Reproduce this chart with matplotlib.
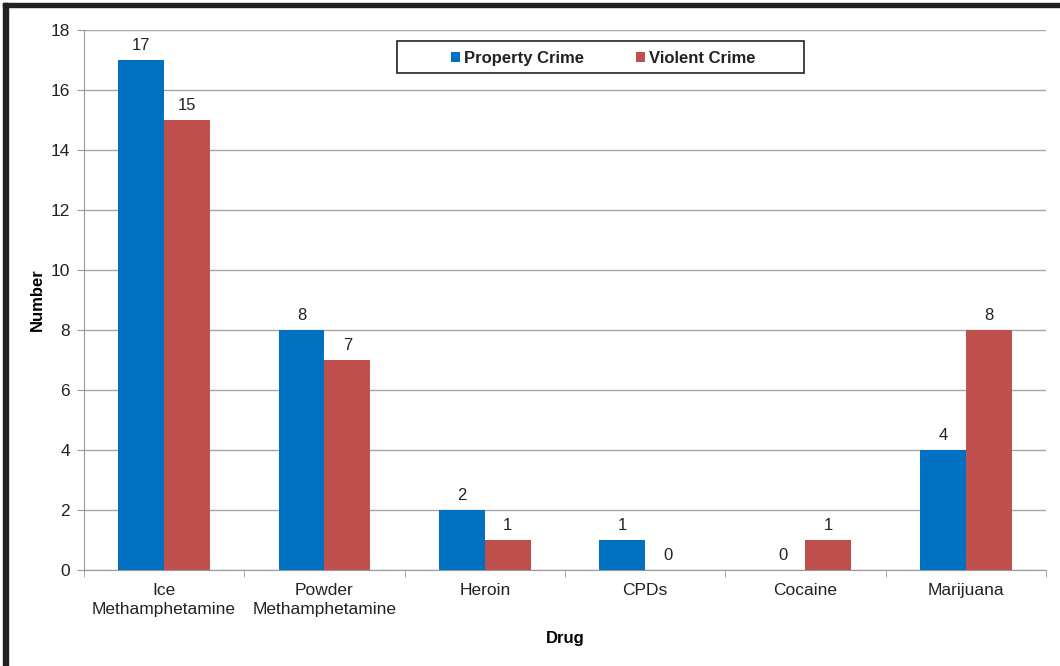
import matplotlib.pyplot as plt
import numpy as np
from matplotlib.patches import Rectangle

plt.rcParams['font.family'] = ['Liberation Sans', 'DejaVu Sans']

drugs = ["Ice\nMethamphetamine", "Powder\nMethamphetamine", "Heroin", "CPDs", "Cocaine", "Marijuana"]
property_crime = [17, 8, 2, 1, 0, 4]
violent_crime = [15, 7, 1, 0, 1, 8]

blue = "#0070C0"
red = "#C0504D"

fig = plt.figure(figsize=(10.6, 6.66), dpi=100)
ax = fig.add_axes([0.0792, 0.1441, 0.9076, 0.8109])

x = np.arange(len(drugs))
w = 0.285
b1 = ax.bar(x - w / 2, property_crime, w, color=blue, label="Property Crime", zorder=3)
b2 = ax.bar(x + w / 2, violent_crime, w, color=red, label="Violent Crime", zorder=3)

for bars in (b1, b2):
    for rect in bars:
        h = rect.get_height()
        ax.text(rect.get_x() + rect.get_width() / 2, h + 0.22, "%d" % h,
                ha="center", va="bottom", fontsize=12, color="#222222")

ax.set_xlim(-0.5, len(drugs) - 0.5)
ax.set_ylim(0, 18)
ax.set_yticks(range(0, 19, 2))
ax.set_xticks(x)
ax.set_xticklabels(drugs, fontsize=12.5, color="#222222", linespacing=1.35)
ax.set_xticks(np.arange(-0.5, len(drugs), 1), minor=True)
ax.tick_params(axis="x", which="major", length=0, pad=9)
ax.tick_params(axis="x", which="minor", length=5, color="#999999")
ax.tick_params(axis="y", length=5, color="#999999", labelsize=12.5, labelcolor="#222222", pad=5)
ax.yaxis.grid(True, color="#a6a6a6", linewidth=1, zorder=0)

for side in ("top", "right"):
    ax.spines[side].set_visible(False)
ax.spines["left"].set_color("#999999")
ax.spines["bottom"].set_color("#999999")

ax.set_ylabel("Number", fontsize=12, fontweight="bold", labelpad=4)
ax.set_xlabel("Drug", fontsize=12, fontweight="bold", labelpad=10)

leg = ax.legend(loc="center", bbox_to_anchor=(603.5 / 1060, 1 - 58.5 / 666),
                bbox_transform=fig.transFigure, ncol=2, frameon=False,
                handlelength=0.55, handleheight=0.55, handletextpad=0.25,
                columnspacing=3.1, borderpad=0, prop={"weight": "bold", "size": 12})
for t in leg.get_texts():
    t.set_color("#222222")

# legend frame
fig.patches.append(Rectangle((397 / 1060, 1 - 73 / 666), 407 / 1060, 32 / 666,
                             transform=fig.transFigure, facecolor="none",
                             edgecolor="#222222", linewidth=1.2, zorder=5))

# thick black frame at top and left of the figure
fig.patches.append(Rectangle((3 / 1060, 1 - 7 / 666), 1, 4 / 666, transform=fig.transFigure,
                             color="#231f20", zorder=10))
fig.patches.append(Rectangle((3 / 1060, 0), 5 / 1060, 1 - 3 / 666, transform=fig.transFigure,
                             color="#231f20", zorder=10))

fig.savefig("out.png", dpi=100)
